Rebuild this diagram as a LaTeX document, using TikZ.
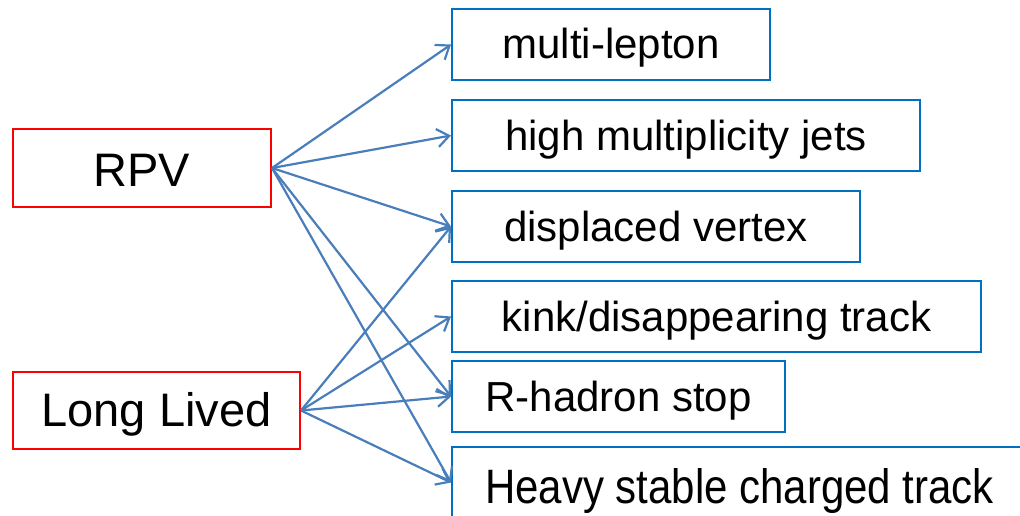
\documentclass[tikz,border=0pt]{standalone}
\usepackage{fontspec}
\usepackage{graphicx}
\setmainfont{Liberation Sans}
\usetikzlibrary{arrows.meta}
\definecolor{boxblue}{HTML}{0070C0}
\definecolor{arrblue}{HTML}{4A7EBB}
\definecolor{boxred}{HTML}{FF0000}
\begin{document}
\begin{tikzpicture}[x=1pt,y=-1pt,
 rbox/.style={draw=boxblue,line width=2pt,inner sep=0pt,minimum height=71pt,text height=30pt,text depth=0pt,font=\fontsize{42}{50}\selectfont},
 lbox/.style={draw=boxred,line width=2pt,inner sep=0pt,text depth=0pt,font=\fontsize{47}{56}\selectfont},
 conn/.style={draw=arrblue,line width=2.2pt,-{Straight Barb[length=12pt,width=18pt]}}]
\useasboundingbox (0,0) rectangle (1020,515);
\clip (0,0) rectangle (1020,515);
\node[lbox,minimum width=258pt,minimum height=78pt,text height=37pt] (rpv) at (142,168) {RPV};
\node[lbox,minimum width=287pt,minimum height=77pt,text height=32pt] (ll) at (156.5,410.5) {Long Lived};
\node[rbox,minimum width=318pt,text height=27pt] (ml) at (611,44.5) {multi-lepton};
\node[rbox,minimum width=468pt] (hm) at (686,135.5) {high multiplicity jets};
\node[rbox,minimum width=408pt] (dv) at (656,226.5) {displaced vertex};
\node[rbox,minimum width=529pt] (kt) at (716.5,316.5) {kink/disappearing track};
\node[rbox,minimum width=333pt] (rh) at (618.5,396.5) {R-hadron stop};
\node[rbox,minimum width=575pt,text height=41pt] (hs) at (739.5,482.5) {\scalebox{1}[1.15]{Heavy stable charged track}};
\draw[conn] (rpv.east) -- (ml.west);
\draw[conn] (rpv.east) -- (hm.west);
\draw[conn] (rpv.east) -- (dv.west);
\draw[conn] (rpv.east) -- (rh.west);
\draw[conn] (rpv.east) -- (hs.west);
\draw[conn] (ll.east) -- (dv.west);
\draw[conn] (ll.east) -- (kt.west);
\draw[conn] (ll.east) -- (rh.west);
\draw[conn] (ll.east) -- (hs.west);
\end{tikzpicture}
\end{document}
